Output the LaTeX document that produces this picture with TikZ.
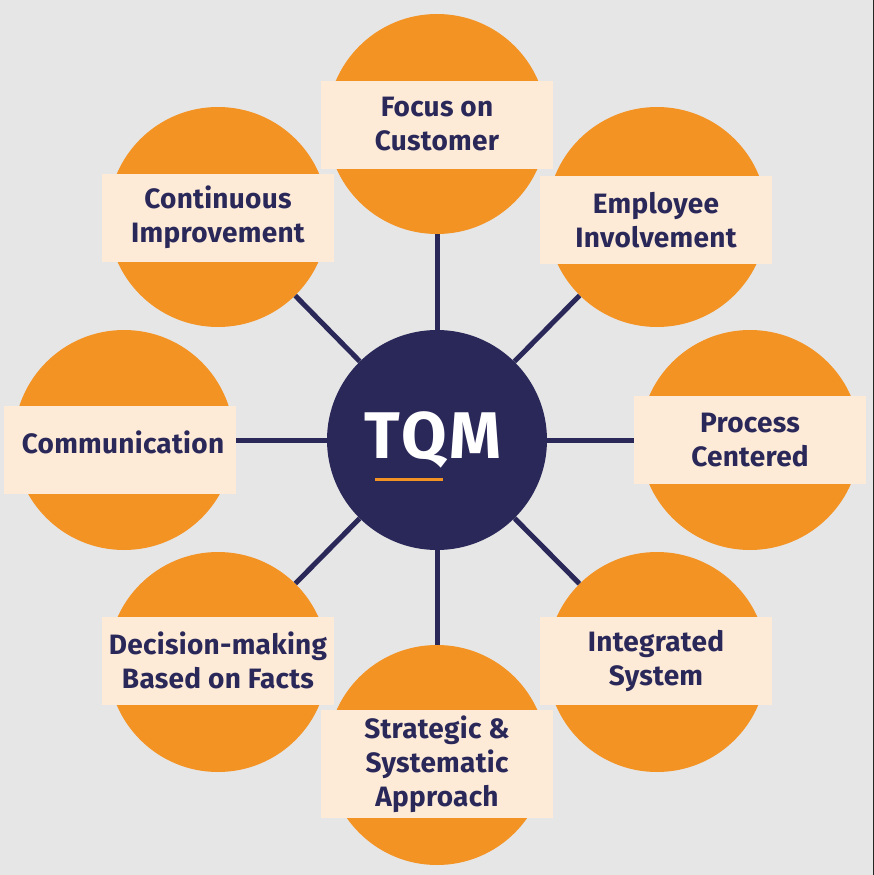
\documentclass[tikz,border=0pt]{standalone}
\usepackage{fontspec}
\setmainfont{Fira Sans}
\usetikzlibrary{positioning}
\definecolor{tqmnavy}{HTML}{2A2859}
\definecolor{tqmorange}{HTML}{F39324}
\definecolor{tqmpeach}{HTML}{FDEBD8}
\definecolor{tqmgray}{HTML}{E6E6E6}
\tikzset{
  hubnode/.style={circle, fill=tqmnavy, minimum size=220pt, inner sep=0pt},
  petalnode/.style={circle, fill=tqmorange, minimum size=220pt, inner sep=0pt},
  labelfont/.style={text=tqmnavy, font=\bfseries\fontsize{28}{34}\selectfont\addfontfeature{LetterSpace=1}},
  labelnode/.style={labelfont, fill=tqmpeach, minimum width=232pt, minimum height=88pt, inner sep=2pt, align=center},
  spoke/.style={line width=5pt, tqmnavy}
}

\begin{document}
\begin{tikzpicture}[x=1pt, y=-1pt]
      \fill[tqmgray] (0,0) rectangle (874,875);
      \fill[black!85] (872.5,0) rectangle (874,875);
      % hub and petals
      \node[hubnode] (hub) at (437,440) {};
      \node[anchor=base, text=white, font=\bfseries\fontsize{66}{66}\selectfont\addfontfeature{LetterSpace=5}] (tqm) at (433,458) {TQM};
      \node[petalnode] (top) at (437,124) {};
      \node[petalnode] (topright) at (657,217) {};
      \node[petalnode] (right) at (750,440) {};
      \node[petalnode] (botright) at (657,662) {};
      \node[petalnode] (bot) at (437,755) {};
      \node[petalnode] (botleft) at (218,662) {};
      \node[petalnode] (left) at (124,440) {};
      \node[petalnode] (topleft) at (218,217) {};
      \draw[spoke] (hub) -- (top);
      \draw[spoke] (hub) -- (topright);
      \draw[spoke] (hub) -- (right);
      \draw[spoke] (hub) -- (botright);
      \draw[spoke] (hub) -- (bot);
      \draw[spoke] (hub) -- (botleft);
      \draw[spoke] (hub) -- (left);
      \draw[spoke] (hub) -- (topleft);
      \draw[tqmorange, line width=3pt] (375,479) -- (443,479);
      % labels
      \node[labelnode] (ltop) at (437,124.5) {Focus on\\Customer};
      \node[labelnode] (ltopright) at (656,220) {Employee\\Involvement};
      \node[labelnode] (lright) at (750,440) {Process\\Centered};
      \node[labelnode] (lbotright) at (656,660.5) {Integrated\\System};
      \node[labelnode, minimum height=108pt] (lbot) at (437,764) {Strategic \&\\Systematic\\Approach};
      \node[labelnode] (lbotleft) at (218,660.5) {Decision-making\\Based on Facts};
      \node[labelnode] (lleft) at (119.5,450) {};
      \node[labelfont, anchor=base] (lleftxt) at (123,453) {Communication};
      \node[labelnode] (ltopleft) at (218,217.5) {Continuous\\Improvement};
    \end{tikzpicture}
\end{document}
